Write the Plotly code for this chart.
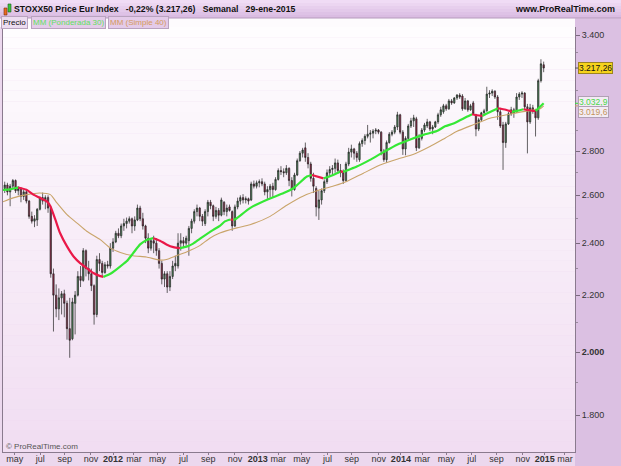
import numpy as np
import pandas as pd
import plotly.graph_objects as go

# Weekly candles of the STOXX50 Price EUR index, week of 2011-04-04 up to 2015-01-26
first_week = "2011-04-04"

opens = [
    2630, 2645, 2615, 2640, 2665, 2620, 2630, 2595, 2615, 2575,
    2510, 2490, 2495, 2540, 2590, 2575, 2590, 2545, 2280, 2200,
    2150, 2190, 2205, 2170, 2080, 2045, 2170, 2200, 2270, 2255,
    2370, 2300, 2280, 2235, 2130, 2335, 2320, 2285, 2315, 2310,
    2380, 2405, 2440, 2430, 2470, 2480, 2490, 2500, 2470, 2495,
    2545, 2500, 2470, 2420, 2380, 2410, 2400, 2370, 2320, 2260,
    2280, 2230, 2270, 2310, 2310, 2400, 2410, 2400, 2410, 2460,
    2490, 2530, 2545, 2510, 2480, 2530, 2570, 2555, 2510, 2535,
    2515, 2570, 2530, 2550, 2530, 2470, 2550, 2575, 2590, 2580,
    2585, 2580, 2650, 2640, 2655, 2660, 2650, 2615, 2625, 2640,
    2625, 2670, 2710, 2705, 2700, 2720, 2665, 2625, 2690, 2755,
    2790, 2815, 2770, 2740, 2675, 2630, 2545, 2580, 2620, 2660,
    2700, 2715, 2720, 2745, 2710, 2700, 2665, 2740, 2795, 2810,
    2790, 2760, 2835, 2850, 2870, 2880, 2885, 2895, 2900, 2890,
    2800, 2760, 2840, 2880, 2890, 2915, 2975, 2890, 2810, 2860,
    2920, 2945, 2955, 2815, 2860, 2900, 2920, 2940, 2905, 2915,
    2940, 2975, 2990, 3020, 3005, 3045, 3035, 3060, 3075, 3070,
    3005, 3045, 3000, 3035, 2975, 2905, 2950, 2985, 2995, 3080,
    3085, 3095, 3065, 2990, 2925, 2840, 2930, 2980, 3000, 2990,
    3065, 3080, 3085, 3015, 2940, 3010, 2995, 2960, 3150, 3235,
]
highs = [
    2660, 2655, 2650, 2672, 2670, 2640, 2635, 2625, 2620, 2580,
    2530, 2515, 2545, 2595, 2612, 2600, 2600, 2555, 2300, 2240,
    2225, 2215, 2220, 2180, 2190, 2190, 2215, 2290, 2310, 2380,
    2375, 2330, 2300, 2240, 2350, 2360, 2330, 2325, 2330, 2400,
    2420, 2450, 2460, 2480, 2500, 2505, 2510, 2505, 2510, 2560,
    2555, 2525, 2475, 2440, 2420, 2430, 2420, 2380, 2330, 2290,
    2290, 2290, 2330, 2350, 2440, 2440, 2425, 2430, 2470, 2500,
    2540, 2560, 2550, 2520, 2540, 2580, 2580, 2560, 2550, 2545,
    2590, 2575, 2560, 2560, 2535, 2560, 2590, 2600, 2605, 2595,
    2590, 2660, 2665, 2665, 2670, 2675, 2660, 2640, 2650, 2655,
    2680, 2720, 2730, 2720, 2735, 2725, 2680, 2700, 2765, 2800,
    2815, 2840, 2790, 2750, 2700, 2640, 2620, 2630, 2670, 2715,
    2730, 2735, 2765, 2760, 2740, 2715, 2750, 2815, 2830, 2815,
    2800, 2845, 2860, 2880, 2925, 2900, 2905, 2910, 2905, 2895,
    2810, 2850, 2890, 2900, 2925, 2990, 2980, 2900, 2870, 2930,
    2960, 2975, 2965, 2880, 2910, 2935, 2955, 2945, 2925, 2945,
    2985, 3015, 3030, 3030, 3055, 3055, 3065, 3080, 3085, 3080,
    3060, 3050, 3030, 3045, 2980, 2960, 2990, 3005, 3118, 3100,
    3105, 3100, 3075, 3010, 2940, 2940, 2990, 3015, 3010, 3085,
    3090, 3095, 3090, 3030, 3030, 3025, 3005, 3160, 3265, 3252,
]
lows = [
    2610, 2600, 2553, 2625, 2610, 2600, 2570, 2580, 2565, 2500,
    2480, 2465, 2470, 2535, 2560, 2540, 2525, 2265, 2070, 2120,
    2110, 2130, 2120, 2042, 1981, 2040, 2060, 2195, 2230, 2250,
    2270, 2255, 2215, 2094, 2120, 2290, 2270, 2280, 2300, 2300,
    2365, 2400, 2420, 2420, 2450, 2460, 2480, 2440, 2450, 2490,
    2490, 2455, 2400, 2360, 2370, 2360, 2350, 2300, 2240, 2230,
    2208, 2215, 2260, 2290, 2300, 2370, 2380, 2390, 2350, 2440,
    2480, 2510, 2490, 2470, 2470, 2510, 2540, 2490, 2500, 2490,
    2510, 2515, 2510, 2530, 2450, 2465, 2540, 2560, 2565, 2565,
    2560, 2575, 2630, 2630, 2635, 2640, 2600, 2585, 2590, 2590,
    2620, 2665, 2690, 2680, 2690, 2640, 2595, 2620, 2685, 2750,
    2770, 2750, 2720, 2660, 2610, 2510, 2495, 2560, 2610, 2650,
    2680, 2690, 2700, 2695, 2680, 2650, 2660, 2730, 2770, 2760,
    2750, 2750, 2820, 2830, 2860, 2840, 2860, 2880, 2880, 2780,
    2750, 2745, 2835, 2870, 2880, 2900, 2880, 2782, 2780, 2855,
    2910, 2915, 2800, 2810, 2850, 2890, 2910, 2895, 2880, 2910,
    2930, 2965, 2980, 2995, 3000, 3025, 3030, 3050, 3055, 2995,
    3000, 2990, 2995, 2975, 2870, 2895, 2940, 2975, 2990, 3060,
    3070, 3055, 2950, 2910, 2713, 2815, 2925, 2970, 2960, 2985,
    3050, 3060, 3000, 2789, 2930, 2980, 2869, 2950, 3140, 3195,
]
closes = [
    2645, 2615, 2640, 2665, 2620, 2630, 2595, 2615, 2575, 2510,
    2490, 2500, 2540, 2590, 2575, 2590, 2545, 2280, 2200, 2150,
    2190, 2205, 2170, 2080, 2040, 2175, 2200, 2270, 2255, 2370,
    2300, 2280, 2235, 2130, 2335, 2320, 2285, 2315, 2310, 2380,
    2405, 2440, 2430, 2470, 2480, 2490, 2500, 2470, 2495, 2545,
    2500, 2470, 2420, 2380, 2410, 2400, 2370, 2320, 2260, 2280,
    2230, 2270, 2310, 2320, 2400, 2410, 2400, 2420, 2460, 2490,
    2530, 2545, 2510, 2490, 2530, 2570, 2555, 2510, 2535, 2515,
    2580, 2530, 2545, 2535, 2470, 2550, 2575, 2590, 2580, 2585,
    2575, 2650, 2640, 2655, 2660, 2650, 2615, 2625, 2640, 2625,
    2670, 2710, 2705, 2700, 2720, 2665, 2625, 2690, 2755, 2790,
    2805, 2770, 2740, 2675, 2640, 2550, 2580, 2620, 2660, 2700,
    2715, 2720, 2745, 2710, 2700, 2665, 2740, 2795, 2810, 2790,
    2770, 2835, 2850, 2870, 2880, 2885, 2895, 2900, 2890, 2800,
    2760, 2840, 2880, 2890, 2915, 2975, 2890, 2810, 2860, 2920,
    2945, 2960, 2815, 2860, 2900, 2925, 2940, 2905, 2915, 2940,
    2975, 3000, 3020, 3005, 3045, 3035, 3060, 3075, 3065, 3005,
    3045, 3000, 3020, 2980, 2905, 2950, 2985, 2995, 3080, 3085,
    3095, 3065, 2990, 2920, 2840, 2930, 2980, 3000, 2985, 3065,
    3080, 3085, 3015, 2940, 3010, 2995, 2960, 3150, 3240, 3217.26,
]

# MM (Ponderada 30)
wma_dates = [
    "2011-03-30", "2011-04-18", "2011-05-02", "2011-05-09", "2011-05-30", "2011-06-17",
    "2011-07-04", "2011-07-22", "2011-07-31", "2011-08-13", "2011-08-25", "2011-09-12",
    "2011-09-29", "2011-10-16", "2011-11-02", "2011-11-19", "2011-12-07", "2011-12-15",
    "2012-01-02", "2012-01-19", "2012-02-13", "2012-03-01", "2012-03-19", "2012-04-04",
    "2012-04-22", "2012-05-09", "2012-05-26", "2012-06-13", "2012-06-30", "2012-07-17",
    "2012-08-03", "2012-08-21", "2012-09-24", "2012-10-11", "2012-10-24", "2012-11-08",
    "2012-11-15", "2012-11-22", "2012-12-28", "2013-02-10", "2013-03-25", "2013-04-19",
    "2013-05-24", "2013-06-06", "2013-07-06", "2013-07-31", "2013-08-19", "2013-08-26",
    "2013-09-13", "2013-09-30", "2013-11-03", "2013-12-08", "2014-01-12", "2014-02-15",
    "2014-03-21", "2014-04-25", "2014-05-16", "2014-06-07", "2014-07-11", "2014-07-25",
    "2014-08-07", "2014-08-21", "2014-09-05", "2014-09-30", "2014-10-20", "2014-11-05",
    "2014-11-20", "2014-12-05", "2014-12-29", "2015-01-05", "2015-01-26",
]
wma_values = [
    2624, 2626, 2632, 2634, 2624, 2603,
    2589, 2574, 2553, 2496, 2441, 2387,
    2347, 2321, 2302, 2283, 2271, 2268,
    2280, 2298, 2328, 2360, 2395, 2412,
    2420, 2410, 2395, 2384, 2380, 2386,
    2398, 2418, 2454, 2470, 2489, 2497,
    2495, 2500, 2545, 2581, 2610, 2631,
    2683, 2690, 2675, 2690, 2706, 2704,
    2716, 2728, 2759, 2795, 2830, 2855,
    2877, 2895, 2918, 2932, 2965, 2978,
    2973, 2970, 2985, 3008, 3000, 2990,
    2996, 3003, 2995, 2994, 3032.9,
]

# MM (Simple 40)
sma_dates = [
    "2011-03-23", "2011-04-26", "2011-05-31", "2011-07-04", "2011-07-31", "2011-08-17",
    "2011-09-12", "2011-10-08", "2011-11-02", "2011-12-07", "2012-01-02", "2012-01-28",
    "2012-03-01", "2012-04-04", "2012-05-09", "2012-05-26", "2012-06-21", "2012-07-17",
    "2012-08-20", "2012-09-15", "2012-10-11", "2012-11-24", "2012-12-28", "2013-02-18",
    "2013-04-02", "2013-05-15", "2013-06-27", "2013-08-05", "2013-09-04", "2013-10-17",
    "2013-12-01", "2014-01-12", "2014-02-24", "2014-04-07", "2014-05-16", "2014-06-15",
    "2014-07-28", "2014-09-09", "2014-10-23", "2014-12-04", "2015-01-17", "2015-01-26",
]
sma_values = [
    2567, 2589, 2603, 2610, 2603, 2567,
    2517, 2482, 2448, 2414, 2380, 2363,
    2350, 2345, 2333, 2335, 2350, 2365,
    2390, 2420, 2441, 2462, 2475, 2510,
    2557, 2597, 2624, 2643, 2661, 2698,
    2736, 2762, 2785, 2821, 2861, 2893,
    2926, 2958, 2975, 2991, 3005, 3019.6,
]

label_dates = [
    "2011-04-30", "2011-07-05", "2011-09-06", "2011-11-13",
    "2012-01-09", "2012-03-03", "2012-05-03", "2012-07-09", "2012-09-11", "2012-11-19",
    "2013-01-17", "2013-03-11", "2013-05-11", "2013-07-16", "2013-09-17", "2013-11-26",
    "2014-01-22", "2014-03-18", "2014-05-19", "2014-07-24", "2014-09-26", "2014-12-03",
    "2015-01-29", "2015-03-22",
]
label_text = [
    "may", "jul", "sep", "nov",
    "2012", "mar", "may", "jul", "sep", "nov",
    "2013", "mar", "may", "jul", "sep", "nov",
    "2014", "mar", "may", "jul", "sep", "nov",
    "2015", "mar",
]
price_ticks = [1800, 2000, 2200, 2400, 2600, 2800, 3400]
price_text = ["1.800", "2.000", "2.200", "2.400", "2.600", "2.800", "3.400"]
price_minor = [1900, 2100, 2300, 2500, 2700, 2900, 3100, 3300]

title_parts = ["STOXX50 Price Eur Index", "-0,22% (3.217,26)", "Semanal", "29-ene-2015"]
last_close_text = "3.217,26"
wma_last_text = "3.032,9"
sma_last_text = "3.019,6"

weeks = pd.date_range(first_week, periods=len(closes), freq="7D")

# page geometry (pixels)
W, H = 621, 466
L, R, T, B = 3, 46, 27, 14
PW, PH = W - L - R, H - T - B
FONT = "Liberation Sans, Arial, sans-serif"
GREEN = "#35e835"
RED = "#ea1848"
TAN = "#c9a46a"


def fx(px):
    return (px - L) / PW


def fy(py):
    return (H - B - py) / PH


def mix(c0, c1, t):
    return "rgb(%d,%d,%d)" % tuple(round(a + (b - a) * t) for a, b in zip(c0, c1))


fig = go.Figure()

fig.add_trace(go.Candlestick(
    x=weeks, open=opens, high=highs, low=lows, close=closes,
    increasing=dict(line=dict(color="#222222", width=0.7), fillcolor="#4e8a5c"),
    decreasing=dict(line=dict(color="#222222", width=0.7), fillcolor="#9a2547"),
    whiskerwidth=0, hoverinfo="skip", showlegend=False,
))

fig.add_trace(go.Scatter(
    x=sma_dates, y=sma_values, mode="lines",
    line=dict(color=TAN, width=1.1, shape="spline", smoothing=0.6),
    hoverinfo="skip", showlegend=False,
))

# weighted average: green while rising, red while falling
def add_wma(xs, ys, up):
    fig.add_trace(go.Scatter(
        x=xs, y=ys, mode="lines",
        line=dict(color=GREEN if up else RED, width=2.2, shape="spline", smoothing=0.6),
        hoverinfo="skip", showlegend=False,
    ))


seg_x, seg_y, seg_up = [wma_dates[0]], [wma_values[0]], None
for k in range(1, len(wma_values)):
    up = wma_values[k] >= wma_values[k - 1]
    if seg_up is not None and up != seg_up:
        add_wma(seg_x, seg_y, seg_up)
        seg_x, seg_y = [wma_dates[k - 1]], [wma_values[k - 1]]
    seg_x.append(wma_dates[k])
    seg_y.append(wma_values[k])
    seg_up = up
add_wma(seg_x, seg_y, seg_up)

shapes = []
# plot background gradient
n = 40
for k in range(n):
    shapes.append(dict(type="rect", xref="paper", yref="paper", x0=0, x1=1,
                       y0=k / n, y1=(k + 1) / n, layer="below", line=dict(width=0),
                       fillcolor=mix((241, 221, 242), (254, 253, 254), (k + 0.5) / n)))
# legend row
shapes.append(dict(type="rect", xref="paper", yref="paper", x0=fx(0), x1=fx(575),
                   y0=fy(27), y1=fy(18), layer="below", line=dict(width=0), fillcolor="#fdfbfd"))
# title bar
for k in range(6):
    shapes.append(dict(type="rect", xref="paper", yref="paper", x0=fx(0), x1=fx(W),
                       y0=fy(18 - 3 * k), y1=fy(15 - 3 * k), layer="below", line=dict(width=0),
                       fillcolor=mix((218, 188, 226), (240, 220, 245), k / 5)))
shapes.append(dict(type="line", xref="paper", yref="paper", x0=fx(0), x1=fx(W),
                   y0=fy(18), y1=fy(18), line=dict(color="#b69abd", width=1)))
# right price panel and bottom date strip
shapes.append(dict(type="rect", xref="paper", yref="paper", x0=fx(575), x1=fx(W),
                   y0=fy(H), y1=fy(18.5), layer="below", line=dict(width=0), fillcolor="#dbc0e2"))
shapes.append(dict(type="rect", xref="paper", yref="paper", x0=fx(0), x1=fx(575),
                   y0=fy(H), y1=fy(452), layer="below", line=dict(width=0), fillcolor="#ecd8ee"))
# small candle icon in the title bar
shapes.append(dict(type="rect", xref="paper", yref="paper", x0=fx(4), x1=fx(7),
                   y0=fy(15), y1=fy(8), line=dict(color="#7a3010", width=0.6), fillcolor="#e86a20"))
shapes.append(dict(type="rect", xref="paper", yref="paper", x0=fx(8), x1=fx(11),
                   y0=fy(12), y1=fy(4), line=dict(color="#205a20", width=0.6), fillcolor="#3cc43c"))
# level markers on the price axis
for v, c in [(closes[-1], "#555555"), (wma_values[-1], GREEN), (sma_values[-1], TAN)]:
    shapes.append(dict(type="line", xref="paper", yref="y", x0=fx(575), x1=fx(579),
                       y0=v, y1=v, line=dict(color=c, width=1)))

ann = []
sep = "&nbsp;&nbsp;&nbsp;"
ann.append(dict(xref="paper", yref="paper", showarrow=False, xanchor="left", yanchor="middle",
                x=fx(12), y=fy(9), text="<b>" + sep.join(title_parts) + "</b>",
                font=dict(family=FONT, size=8.7, color="#111111")))
ann.append(dict(xref="paper", yref="paper", showarrow=False, xanchor="right", yanchor="middle",
                x=fx(617), y=fy(9), text="<b>www.ProRealTime.com</b>",
                font=dict(family=FONT, size=9, color="#111111")))

box = dict(xref="paper", yref="paper", showarrow=False, xanchor="left", yanchor="middle",
           bordercolor="#b9a3bf", borderwidth=1, borderpad=1)
ann.append(dict(box, x=fx(1), y=fy(22.5), text="Precio", bgcolor="#ecdcf0",
                font=dict(family=FONT, size=8, color="#111111")))
ann.append(dict(box, x=fx(31), y=fy(22.5), text="MM (Ponderada 30)", bgcolor="#e4cbe9",
                font=dict(family=FONT, size=8, color="#5fe05f")))
ann.append(dict(box, x=fx(108), y=fy(22.5), text="MM (Simple 40)", bgcolor="#e4cbe9",
                font=dict(family=FONT, size=8, color="#d49a5c")))

ann.append(dict(xref="paper", yref="paper", x=fx(4), y=fy(446), showarrow=False,
                xanchor="left", yanchor="middle", text="© ProRealTime.com",
                font=dict(family=FONT, size=8, color="#555555")))

val = dict(xref="paper", yref="y", x=fx(578), showarrow=False, xanchor="left",
           yanchor="middle", borderwidth=1, borderpad=0)
ann.append(dict(val, y=np.log10(closes[-1]), text=last_close_text, bgcolor="#f6d31c",
                bordercolor="#9c8420", font=dict(family=FONT, size=8.5, color="#111111")))
ann.append(dict(val, y=np.log10(wma_values[-1]), yshift=1, text=wma_last_text, bgcolor="#f3ebf4",
                bordercolor="#b0a0b4", font=dict(family=FONT, size=8.5, color="#48d848")))
ann.append(dict(val, y=np.log10(sma_values[-1]), yshift=-6, text=sma_last_text, bgcolor="#f3ebf4",
                bordercolor="#b0a0b4", font=dict(family=FONT, size=8.5, color="#c2945a")))

tick_labels = ["<b>%s</b>" % t if t.isdigit() else t for t in label_text]
price_labels = ["<b>%s</b>" % t if t == "2.000" else t for t in price_text]

fig.update_layout(
    width=W, height=H,
    margin=dict(l=L, r=R, t=T, b=B, pad=0),
    paper_bgcolor="#ecd8ee",
    plot_bgcolor="rgba(0,0,0,0)",
    showlegend=False,
    shapes=shapes,
    annotations=ann,
    boxgap=0.3,
    xaxis=dict(
        type="date", range=["2011-03-30 14:00", "2015-04-17"],
        rangeslider=dict(visible=False), fixedrange=True, automargin=False,
        tickvals=label_dates, ticktext=tick_labels, ticklabelstandoff=-4,
        ticks="outside", ticklen=2, tickcolor="#8a7a8e",
        tickfont=dict(family=FONT, size=9, color="#333333"),
        showgrid=False, zeroline=False, showline=True, linecolor="#8a7a8e", linewidth=1,
    ),
    yaxis=dict(
        type="log", side="right", range=[np.log10(1692), np.log10(3446)],
        fixedrange=True, automargin=False,
        tickvals=price_ticks, ticktext=price_labels,
        ticks="outside", ticklen=4, tickcolor="#7a6a7e",
        tickfont=dict(family=FONT, size=9, color="#333333"),
        showgrid=False, zeroline=False, showline=True, mirror=True,
        linecolor="#8a7a8e", linewidth=1,
        minor=dict(tickvals=price_minor, ticks="outside", ticklen=2,
                   tickcolor="#9a8a9e", showgrid=False),
    ),
)

# the page body has a default 8px margin; drop it so the chart sits at the window corner
fig.write_html("out.html", config={"displayModeBar": False},
               post_script="document.body.style.margin='0';document.body.style.padding='0';")
